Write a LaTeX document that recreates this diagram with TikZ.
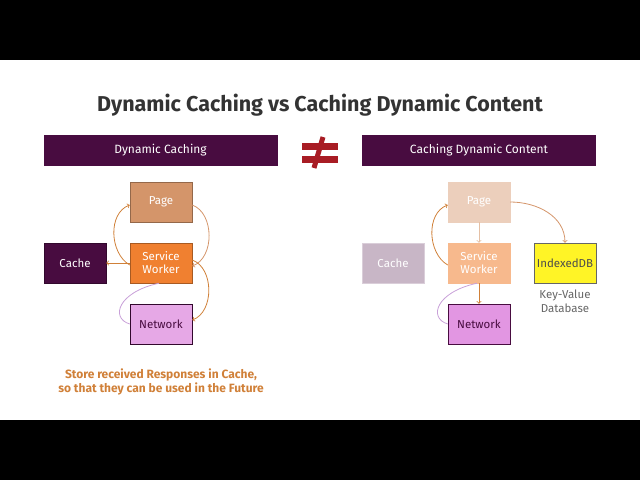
\documentclass[tikz,border=0pt]{standalone}
\usepackage{fontspec}
\setmainfont{Fira Sans}
\usepackage{tikz}
\usetikzlibrary{positioning}
\usepackage{xcolor}

\definecolor{plum}{HTML}{480C40}
\definecolor{tan}{HTML}{D4956A}
\definecolor{swor}{HTML}{F08030}
\definecolor{lilac}{HTML}{E6A8E6}
\definecolor{netpink}{HTML}{E296E2}
\definecolor{arrowor}{HTML}{D08038}
\definecolor{curvelil}{HTML}{C8A0D8}
\definecolor{neqred}{HTML}{A81C24}

\tikzset{
    box/.style={draw=#1!70!black, line width=0.5pt, minimum width=62pt, minimum height=40pt, inner sep=0pt, align=center, font=\fontsize{11.5}{13}\selectfont, text=white},
    header/.style={fill=plum, minimum width=234pt, minimum height=31pt, text=white, font=\fontsize{12}{14}\selectfont},
    flow/.style={->, line width=0.8pt, arrowor},
    back/.style={line width=0.8pt, curvelil}
}

\begin{document}
\begin{tikzpicture}[x=1pt, y=-1pt]
                \useasboundingbox (0,0) rectangle (640,480);
                \fill[black] (0,0) rectangle (640,60);
                \fill[black] (0,420) rectangle (640,480);

                \node (title) at (320,105) {\fontsize{21.5}{24}\selectfont\bfseries\color{black!80} Dynamic Caching vs Caching Dynamic Content};

                \node[header] (lhead) at (160.5,150.5) {Dynamic Caching};
                \node[header] (rhead) at (479,150.5) {Caching Dynamic Content};

                % not-equal sign
                \fill[neqred] (302,143) rectangle (338,150);
                \fill[neqred] (302,156) rectangle (338,163);
                \draw[neqred, line width=5pt] (323,137) -- (314,168);

                % left: dynamic caching
                \node[box=tan, fill=tan] (lpage) at (161,202) {Page};
                \node[box=swor, fill=swor] (lsw) at (161,263) {Service\\Worker};
                \node[box=plum, fill=plum] (lcache) at (75,263) {Cache};
                \node[box=plum, fill=lilac, text=plum] (lnet) at (161,324) {Network};

                \draw[flow] (lsw.west) -- (lcache.east);
                \draw[flow] ([yshift=-2pt]lsw.west) to[out=150, in=200] ([yshift=-3pt]lpage.west);
                \draw[flow, tan] ([yshift=-3pt]lpage.east) to[out=-20, in=20] ([yshift=-3pt]lsw.east);
                \draw[flow] ([yshift=3pt]lsw.east) to[out=-20, in=20] ([yshift=4pt]lnet.east);
                \draw[back] (lnet.west) .. controls (110,318) and (118,292) .. ([xshift=-2pt]lsw.south);

                \node[text=arrowor, align=center, font=\fontsize{12}{14}\selectfont\bfseries] (note) at (161,382) {Store received Responses in Cache,\\so that they can be used in the Future};

                % right: caching dynamic content
                \node[box=tan, fill=tan!45, draw=tan!45] (rpage) at (479,202) {Page};
                \node[box=swor, fill=swor!55, draw=swor!55] (rsw) at (479,263) {Service\\Worker};
                \node[box=plum, fill=plum!30, draw=plum!20] (rcache) at (393,263) {Cache};
                \node[box=lilac, fill=netpink, draw=plum, text=plum] (rnet) at (479,324) {Network};
                \node[box=yellow, fill=yellow!85, draw=black!60, text=black!70] (ridb) at (565,263) {IndexedDB};
                \node[below=3pt of ridb, align=center, text=black!60, font=\fontsize{11.5}{14}\selectfont] (rkv) {Key-Value\\Database};

                \draw[flow, tan!60] (rpage.south) -- (rsw.north);
                \draw[flow] (rsw.south) -- (rnet.north);
                \draw[flow] ([yshift=-2pt]rsw.west) to[out=150, in=200] ([yshift=-3pt]rpage.west);
                \draw[flow, tan] (rpage.east) to[out=0, in=90] (ridb.north);
                \draw[back] (rnet.west) .. controls (428,318) and (436,292) .. ([xshift=-2pt]rsw.south);
\end{tikzpicture}
\end{document}
